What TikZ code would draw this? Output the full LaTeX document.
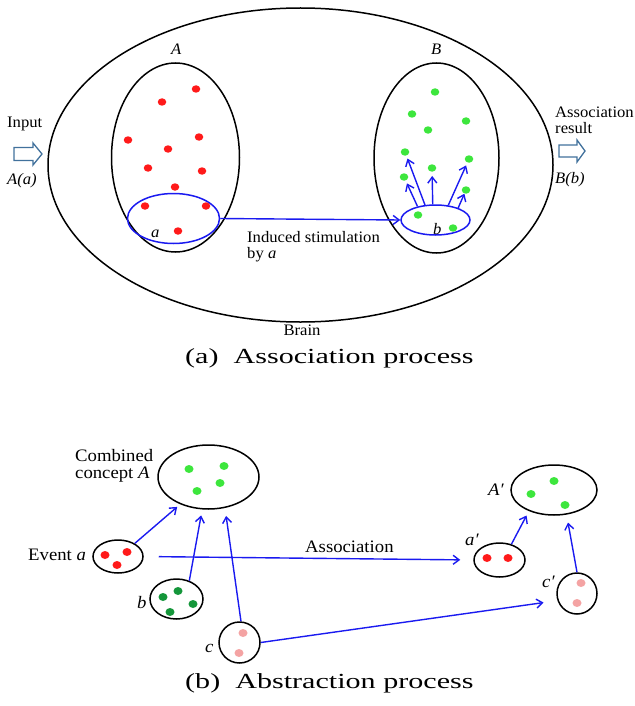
\documentclass[tikz,border=0pt]{standalone}
\usepackage{fontspec}
\setmainfont{Liberation Serif}
\newfontfamily\topfont{Liberation Serif}[FakeStretch=1.04]
\newfontfamily\botfont{Liberation Serif}[FakeStretch=1.07]
\newfontfamily\capfont{Liberation Serif}[FakeStretch=1.40]
\usetikzlibrary{shapes.geometric,arrows.meta}
\definecolor{rdot}{HTML}{FF1A1A}
\definecolor{gdot}{HTML}{3DE63D}
\definecolor{dgdot}{HTML}{14963A}
\definecolor{pdot}{HTML}{F4A3A3}
\definecolor{hollow}{HTML}{41719C}
\definecolor{lblue}{HTML}{1A1AF0}
\begin{document}
\begin{tikzpicture}[x=1pt,y=-1pt,
  ell/.style={draw, ellipse, line width=1.5pt, inner sep=0pt},
  bell/.style={ell, draw=lblue},
  dot/.style={ellipse, inner sep=0pt, minimum width=8.5pt, minimum height=7.5pt, fill=#1},
  bdot/.style={ellipse, inner sep=0pt, minimum width=9pt, minimum height=8pt, fill=#1},
  barrow/.style={draw=lblue, line width=1.4pt, -{Straight Barb[length=6pt,width=9pt]}},
  tl/.style={inner sep=0pt, anchor=base west, font=\topfont\fontsize{16}{16}\selectfont},
  bl/.style={inner sep=0pt, anchor=base west, font=\botfont\fontsize{17.5}{17}\selectfont},
  cl/.style={inner sep=0pt, anchor=base west, font=\capfont\fontsize{21.5}{24}\selectfont},
  hol/.style={draw=hollow, fill=white, line width=1.3pt, line join=miter}
]
\useasboundingbox (0,0) rectangle (634,706);

% ---------------- (a) Association process ----------------
\node[ell, minimum width=505pt, minimum height=314pt] (brain) at (300.5,165) {};
\node[ell, minimum width=128pt, minimum height=189pt] (A) at (175.5,157.5) {};
\node[ell, minimum width=125pt, minimum height=190pt] (B) at (436.5,158) {};
\node[bell, minimum width=92pt, minimum height=50pt] (aa) at (173.5,218.5) {};
\node[bell, minimum width=69pt, minimum height=30pt] (bb) at (435.5,220) {};

% red dots in A
\foreach \p [count=\i] in {(162,102),(196,89),(128,140),(199,137),(168,149),(148,168),(202,171),(175,187),(145,206),(206,206),(178,231)}
  \node[dot=rdot] (r\i) at \p {};
% green dots in B
\node[dot=gdot] (g1) at (435,92) {};
\node[dot=gdot] (g2) at (412,114) {};
\node[dot=gdot] (g3) at (466,121) {};
\node[dot=gdot] (g4) at (428,130) {};
\node[dot=gdot] (g5) at (405,152) {};
\node[dot=gdot] (g6) at (469,159) {};
\node[dot=gdot] (g7) at (432,168) {};
\node[dot=gdot] (g8) at (404,177) {};
\node[dot=gdot] (g9) at (466,190) {};
\node[dot=gdot] (g10) at (418,215) {};
\node[dot=gdot] (g11) at (453,228) {};

% arrows from b
\draw[barrow, shorten >=3pt] (bb.143) -- (g8);
\draw[barrow, shorten >=3pt] (bb.125) -- (g5);
\draw[barrow, shorten >=4pt] (bb.100) -- (g7);
\draw[barrow, shorten >=3pt] (bb.49) -- (g6);
\draw[barrow, shorten >=0pt] (bb.28) -- (g9);
% induced stimulation
\draw[barrow] (aa.east) -- (bb.west);

% labels
\node[tl] (lA) at (171,55) {\textit{A}};
\node[tl] (lB) at (431,55) {\textit{B}};
\node[tl] (la) at (151,237) {\textit{a}};
\node[tl] (lb) at (433,234) {\textit{b}};
\node[tl, align=left] (lind) at (247,258) {Induced stimulation\\by \textit{a}};
\node[tl, anchor=base] (lbrain) at (302,335) {Brain};
\node[tl] (lin) at (7,128) {Input};
\node[tl] (lAa) at (7,184) {\textit{A(a)}};
\node[tl, align=left] (lres) at (555,133) {Association\\result};
\node[tl] (lBb) at (555,183) {\textit{B(b)}};

% hollow arrows
\path[hol] (14,147.5) -- (33,147.5) -- (33,143) -- (42,154) -- (33,165) -- (33,160.5) -- (14,160.5) -- cycle;
\path[hol] (559,145) -- (577,145) -- (577,140) -- (585,151) -- (577,162) -- (577,157) -- (559,157) -- cycle;

\node[cl] (capa) at (185,363) {(a)\hspace{0.7em}Association process};

% ---------------- (b) Abstraction process ----------------
\node[ell, minimum width=101pt, minimum height=64pt] (CA) at (208.5,477) {};
\node[ell, minimum width=50pt, minimum height=33pt] (ea) at (118,556.5) {};
\node[ell, minimum width=53pt, minimum height=40pt] (bn) at (176.5,599) {};
\node[ell, minimum width=41pt, minimum height=41pt] (cn) at (239.5,642.5) {};
\node[ell, minimum width=86pt, minimum height=50pt] (Ap) at (554,490) {};
\node[ell, minimum width=51pt, minimum height=34pt] (ap) at (499.5,560) {};
\node[ell, minimum width=40pt, minimum height=41pt] (cp) at (577,593.5) {};

\node[bdot=gdot] (c1) at (189,469) {};
\node[bdot=gdot] (c2) at (224,466) {};
\node[bdot=gdot] (c3) at (220,483) {};
\node[bdot=gdot] (c4) at (197,491) {};
\node[bdot=rdot] (e1) at (105,555) {};
\node[bdot=rdot] (e2) at (127,552) {};
\node[bdot=rdot] (e3) at (117,565) {};
\node[bdot=dgdot] (d1) at (163,597) {};
\node[bdot=dgdot] (d2) at (178,591) {};
\node[bdot=dgdot] (d3) at (193,604) {};
\node[bdot=dgdot] (d4) at (170,612) {};
\node[bdot=pdot] (p1) at (243,633) {};
\node[bdot=pdot] (p2) at (239,653) {};
\node[bdot=gdot] (q1) at (554,481) {};
\node[bdot=gdot] (q2) at (531,494) {};
\node[bdot=gdot] (q3) at (565,505) {};
\node[bdot=rdot] (s1) at (487,558) {};
\node[bdot=rdot] (s2) at (508,558) {};
\node[bdot=pdot] (t1) at (581,583) {};
\node[bdot=pdot] (t2) at (577,603) {};

\draw[barrow, shorten >=4pt] (ea.38) -- (CA.224);
\draw[barrow, shorten >=6pt] (bn.55) -- (CA.259);
\draw[barrow, shorten >=8pt] (cn.86) -- (CA.298);
\draw[barrow, shorten <=15pt, shorten >=13pt] (ea.east) -- (ap.west);
\draw[barrow, shorten >=14pt] (cn.east) -- (cp.200);
\draw[barrow, shorten >=5pt] (ap.53) -- (Ap.220);
\draw[barrow, shorten >=8pt] (cp.90) -- (Ap.297);

\node[bl, align=left] (lcomb) at (75,478) {Combined\\concept \textit{A}};
\node[bl] (lev) at (28,560) {Event \textit{a}};
\node[bl] (lbb) at (137,608) {\textit{b}};
\node[bl] (lcc) at (205,652) {\textit{c}};
\node[bl] (lass) at (305,552) {Association};
\node[bl] (lAp) at (488,495) {\textit{A′}};
\node[bl] (lap) at (465,545) {\textit{a′}};
\node[bl] (lcp) at (542,587) {\textit{c′}};

\node[cl] (capb) at (185,688) {(b)\hspace{0.7em}Abstraction process};
\end{tikzpicture}
\end{document}
